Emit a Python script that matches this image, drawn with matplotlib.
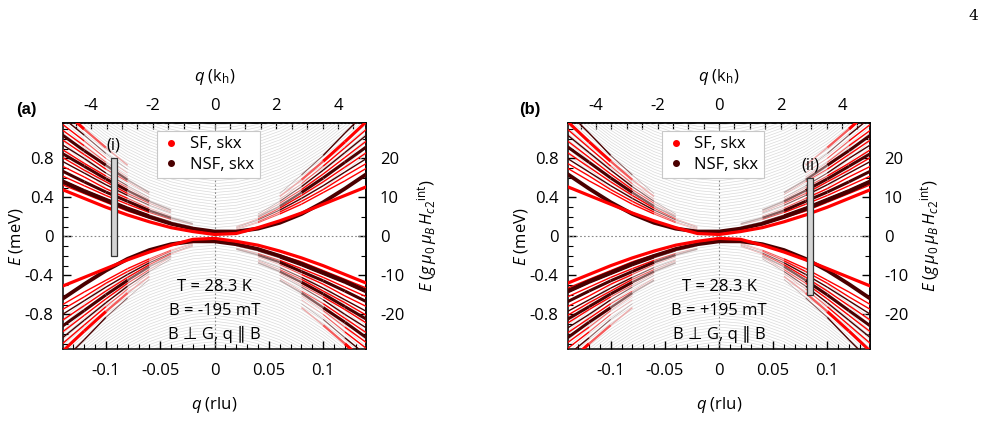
import numpy as np
import matplotlib
matplotlib.use("Agg")
import matplotlib.pyplot as plt
from matplotlib.patches import Rectangle
from matplotlib.lines import Line2D
from matplotlib.collections import LineCollection
from matplotlib.colors import to_rgb
from matplotlib.ticker import MultipleLocator, FixedLocator, FuncFormatter

plt.rcParams['font.family'] = ['Open Sans', 'DejaVu Sans']
plt.rcParams['mathtext.fontset'] = 'custom'
plt.rcParams['mathtext.rm'] = 'Open Sans'
plt.rcParams['mathtext.it'] = 'Open Sans:italic'
plt.rcParams['axes.unicode_minus'] = False

nan = np.nan
RED = '#ff0000'
DARK = '#4a0000'
GRAY = '#dadada'

KH_PER_RLU = 35.2   # top axis q (k_h) per rlu
E_SCALE = 25.0      # right axis units per meV

# ---- data of panel (a), upper band; lower band is the point image (-q, -E),
# ---- panel (b) is the mirror image q -> -q
q_full = [-0.16, -0.14, -0.12, -0.10, -0.08, -0.06, -0.04, -0.02, 0.0,
          0.02, 0.04, 0.06, 0.08, 0.10, 0.12, 0.14, 0.16]

# background (weak) branches
gray_shape = [0.98, 0.77, 0.58, 0.41, 0.27, 0.16, 0.08, 0.03, 0.0,
              0.02, 0.07, 0.15, 0.26, 0.40, 0.57, 0.76, 0.97]
gray_offsets = [0.09, 0.12, 0.15, 0.18, 0.21, 0.24, 0.27, 0.30, 0.33, 0.36,
                0.39, 0.42, 0.45, 0.48, 0.51, 0.54, 0.57, 0.60, 0.63, 0.66,
                0.69, 0.72, 0.75, 0.78, 0.81, 0.84, 0.87, 0.90, 0.93, 0.96,
                0.99, 1.02, 1.05, 1.08, 1.11, 1.14]

# lowest two branches, full width
low_sf = [0.58, 0.48, 0.39, 0.30, 0.22, 0.15, 0.09, 0.05, 0.02,
          0.03, 0.09, 0.16, 0.24, 0.33, 0.42, 0.51, 0.60]
low_nsf = [0.66, 0.56, 0.46, 0.37, 0.28, 0.20, 0.13, 0.08, 0.05,
           0.05, 0.08, 0.14, 0.23, 0.35, 0.49, 0.64, 0.79]

# left fan (outer end at q = -0.16, fading towards q = 0)
q_left = [-0.16, -0.14, -0.12, -0.10, -0.08, -0.06, -0.04, -0.02]
left_E = [
    [0.63, 0.53, 0.44, 0.35, 0.26, 0.19, 0.12, 0.07],
    [0.68, 0.58, 0.48, 0.39, 0.30, 0.22, 0.15, 0.10],
    [0.73, 0.62, 0.52, 0.42, 0.33, 0.245, 0.175, 0.12],
    [0.78, 0.67, 0.56, 0.455, 0.36, 0.265, 0.19, 0.13],
    [0.84, 0.72, 0.61, 0.49, 0.39, 0.29, 0.21, nan],
    [0.90, 0.77, 0.65, 0.53, 0.42, 0.32, 0.24, nan],
    [0.94, 0.81, 0.68, 0.56, 0.44, 0.34, 0.25, nan],
    [0.99, 0.85, 0.72, 0.59, 0.47, 0.36, 0.27, nan],
    [1.03, 0.89, 0.75, 0.62, 0.50, 0.38, nan, nan],
    [1.09, 0.94, 0.80, 0.65, 0.52, 0.40, nan, nan],
    [1.15, 0.99, 0.84, 0.69, 0.56, 0.43, nan, nan],
    [1.21, 1.04, 0.88, 0.73, 0.58, 0.45, nan, nan],
    [1.26, 1.09, 0.93, 0.76, 0.61, nan, nan, nan],
    [1.33, 1.15, 0.98, 0.80, 0.65, nan, nan, nan],
    [1.41, 1.22, 1.04, 0.85, 0.69, nan, nan, nan],
    [1.51, 1.30, 1.10, 0.91, 0.73, nan, nan, nan],
]
left_kind = ['SF', 'NSF', 'SF', 'NSF', 'SF', 'NSF', 'SF', 'NSF',
             'SF', 'NSF', 'SF', 'NSF', 'SF', 'SF', 'NSF', 'SF']
left_strong = [0, 0, 0, 1, 0, 0, 0, 1, 0, 0, 0, 1, 0, 0, 0, 1]

# right fan (fading towards q = 0, outer end at q = 0.16)
q_right = [0.02, 0.04, 0.06, 0.08, 0.10, 0.12, 0.14, 0.16]
right_E = [
    [0.07, 0.14, 0.23, 0.33, 0.45, 0.57, 0.70, 0.83],
    [0.08, 0.15, 0.25, 0.36, 0.48, 0.62, 0.75, 0.89],
    [0.09, 0.17, 0.27, 0.39, 0.52, 0.66, 0.80, 0.95],
    [0.10, 0.18, 0.29, 0.42, 0.56, 0.71, 0.86, 1.02],
    [nan, 0.20, 0.31, 0.45, 0.60, 0.76, 0.92, 1.09],
    [nan, 0.21, 0.34, 0.48, 0.64, 0.81, 0.98, 1.16],
    [nan, 0.23, 0.36, 0.51, 0.68, 0.86, 1.04, 1.23],
    [nan, nan, 0.38, 0.54, 0.72, 0.91, 1.10, 1.30],
    [nan, nan, 0.41, 0.58, 0.77, 0.97, 1.18, 1.40],
    [nan, nan, 0.44, 0.63, 0.83, 1.06, 1.28, 1.52],
]
right_kind = ['SF', 'SF', 'NSF', 'SF', 'NSF', 'SF', 'NSF', 'SF', 'SF', 'NSF']
right_strong = [0, 0, 0, 0, 1, 0, 0, 0, 1, 0]

panel_field = ['B = -195 mT', 'B = +195 mT']
marker_q = [(-0.0955, -0.0900), (0.0817, 0.0869)]
marker_E = [(-0.20, 0.80), (-0.60, 0.60)]
marker_label = ['(i)', '(ii)']


def fmt(v, pos):
    if abs(v) < 1e-9:
        return '0'
    return '%g' % v


def both(ax, s, q, e, **kw):
    q = np.asarray(q, float)
    e = np.asarray(e, float)
    ax.plot(s * q, e, **kw)
    ax.plot(-s * q, -e, **kw)


def fan(ax, s, q, e, color, lw, inner_last):
    # coloured branch whose inner end (towards q = 0) fades into the grey
    q = np.asarray(q, float)
    e = np.asarray(e, float)
    ok = ~np.isnan(e)
    q, e = q[ok], e[ok]
    if not inner_last:
        q, e = q[::-1], e[::-1]
    n = len(q) - 1
    c = np.array(to_rgb(color))
    g = np.array(to_rgb('#e4e4e4'))
    mix = np.ones(n)
    widths = np.full(n, lw)
    if n >= 2:
        mix[-1], mix[-2] = 0.25, 0.6
        widths[-1], widths[-2] = lw * 0.5, lw * 0.75
    cols = [tuple(m * c + (1 - m) * g) for m in mix]
    for sq, se in ((s, 1), (-s, -1)):
        pts = np.column_stack([sq * q, se * e])
        segs = np.stack([pts[:-1], pts[1:]], axis=1)
        ax.add_collection(LineCollection(segs, colors=cols, linewidths=widths,
                                         capstyle='butt', zorder=3))


def draw_panel(ax, s, idx):
    for off in gray_offsets:
        both(ax, s, q_full, off + np.array(gray_shape), color=GRAY, lw=0.5, zorder=1)

    for e, k, st in zip(left_E, left_kind, left_strong):
        fan(ax, s, q_left, e, RED if k == 'SF' else DARK, 2.2 if st else 1.0, True)
    for e, k, st in zip(right_E, right_kind, right_strong):
        fan(ax, s, q_right, e, RED if k == 'SF' else DARK, 2.2 if st else 1.0, False)
    both(ax, s, q_full, low_nsf, color=DARK, lw=2.8, zorder=4)
    both(ax, s, q_full, low_sf, color=RED, lw=2.3, zorder=4)

    ax.axhline(0, color='#888888', lw=0.8, ls=(0, (1.5, 2)), zorder=2)
    ax.axvline(0, color='#888888', lw=0.8, ls=(0, (1.5, 2)), zorder=2)

    ax.set_xlim(-0.1395, 0.1395)
    ax.set_ylim(-1.155, 1.16)

    q0, q1 = marker_q[idx]
    e0, e1 = marker_E[idx]
    ax.add_patch(Rectangle((q0, e0), q1 - q0, e1 - e0, facecolor='#d4d4d4',
                           edgecolor='#333333', lw=0.9, zorder=6))
    ax.text((q0 + q1) / 2, e1 + 0.13, marker_label[idx], ha='center', va='center',
            fontsize=12, zorder=6)

    ax.text(0, -0.52, 'T = 28.3 K', ha='center', va='center', fontsize=12, zorder=7)
    ax.text(0, -0.76, panel_field[idx], ha='center', va='center', fontsize=12, zorder=7)
    ax.text(0, -1.005, 'B \u22a5 G, q \u2225 B', ha='center', va='center',
            fontsize=12, zorder=7, family=['Open Sans', 'DejaVu Sans'])

    ax.xaxis.set_major_locator(FixedLocator([-0.1, -0.05, 0, 0.05, 0.1]))
    ax.xaxis.set_minor_locator(MultipleLocator(0.01))
    ax.yaxis.set_major_locator(FixedLocator([-0.8, -0.4, 0, 0.4, 0.8]))
    ax.yaxis.set_minor_locator(MultipleLocator(0.1))
    ax.xaxis.set_major_formatter(FuncFormatter(fmt))
    ax.yaxis.set_major_formatter(FuncFormatter(fmt))
    ax.tick_params(which='both', direction='in', top=False, right=False, labelsize=12)
    ax.tick_params(which='major', length=6, width=1)
    ax.tick_params(which='minor', length=3.5, width=0.8)
    ax.tick_params(axis='x', pad=10)
    ax.tick_params(axis='y', pad=7)
    for sp in ax.spines.values():
        sp.set_linewidth(1.1)

    secx = ax.secondary_xaxis('top', functions=(lambda x: x * KH_PER_RLU,
                                                lambda x: x / KH_PER_RLU))
    secx.xaxis.set_major_locator(FixedLocator([-4, -2, 0, 2, 4]))
    secx.xaxis.set_minor_locator(FixedLocator([-4.5, -3.5, -3, -2.5, -1.5, -1, -0.5,
                                               0.5, 1, 1.5, 2.5, 3, 3.5, 4.5]))
    secx.xaxis.set_major_formatter(FuncFormatter(fmt))
    secx.tick_params(which='both', direction='in', length=4, width=0.9, pad=7, labelsize=12)
    secx.spines['top'].set_linewidth(1.1)

    secy = ax.secondary_yaxis('right', functions=(lambda e: e * E_SCALE,
                                                  lambda e: e / E_SCALE))
    secy.yaxis.set_major_locator(FixedLocator([-20, -10, 0, 10, 20]))
    secy.yaxis.set_minor_locator(FixedLocator([-25, -15, -5, 5, 15, 25]))
    secy.yaxis.set_major_formatter(FuncFormatter(fmt))
    secy.tick_params(which='major', direction='in', length=6, width=1, pad=10, labelsize=12)
    secy.tick_params(which='minor', direction='in', length=3.5, width=0.8)
    secy.spines['right'].set_linewidth(1.1)

    tr = ax.transAxes
    ax.text(0.5, 1.205, r'$q$ (k$_\mathrm{h}$)', transform=tr, ha='center', va='center', fontsize=12)
    ax.text(0.5, -0.248, r'$q$ (rlu)', transform=tr, ha='center', va='center', fontsize=12)
    ax.text(-0.155, 0.5, r'$E$ (meV)', transform=tr, ha='center', va='center',
            rotation=90, fontsize=12)
    ax.text(1.2, 0.5, r'$E$ $(g\,\mu_0\,\mu_B\,H_{c2}{}^{\mathrm{int}})$', transform=tr,
            ha='center', va='center', rotation=90, fontsize=12)

    handles = [Line2D([], [], marker='o', ls='none', color=RED, markersize=4),
               Line2D([], [], marker='o', ls='none', color=DARK, markersize=4)]
    leg = ax.legend(handles, ['SF, skx', 'NSF, skx'], loc='upper center',
                    bbox_to_anchor=(0.48, 0.968), fontsize=12, frameon=True,
                    fancybox=False, framealpha=1, edgecolor='#c8c8c8',
                    handlelength=1.0, handletextpad=0.6, labelspacing=0.25,
                    borderpad=0.35, borderaxespad=0)
    leg.get_frame().set_linewidth(0.8)
    leg.set_zorder(10)


fig = plt.figure(figsize=(9.88, 4.21), dpi=100)
ax_a = fig.add_axes([0.0638, 0.171, 0.3067, 0.536])
ax_b = fig.add_axes([0.5749, 0.171, 0.3057, 0.536])
draw_panel(ax_a, 1, 0)
draw_panel(ax_b, -1, 1)

fig.text(0.0263, 0.739, '(a)', ha='center', va='center', fontsize=12,
         fontweight='bold', family='Liberation Sans')
fig.text(0.5366, 0.739, '(b)', ha='center', va='center', fontsize=12,
         fontweight='bold', family='Liberation Sans')
fig.text(0.99, 0.962, '4', ha='right', va='center', fontsize=11, family='DejaVu Serif')

fig.savefig('out.png', dpi=100)
